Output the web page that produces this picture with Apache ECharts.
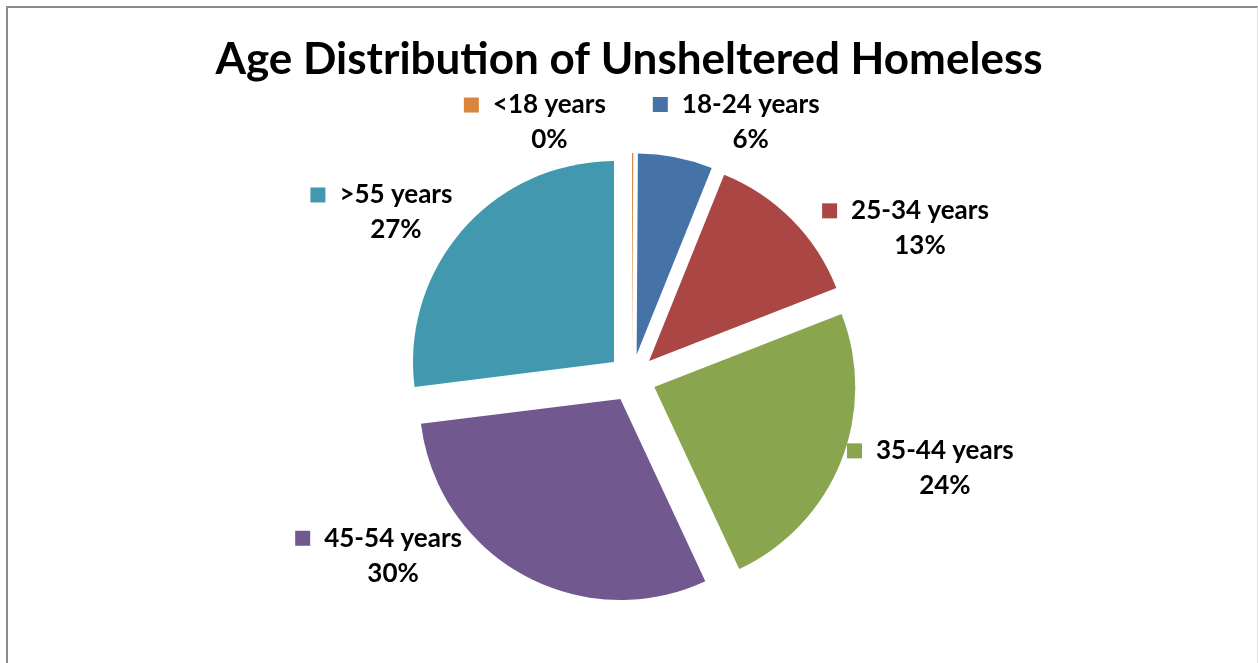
<!DOCTYPE html>
<html lang="en">
<head>
    <meta charset="UTF-8">
    <title>Age Distribution of Unsheltered Homeless</title>
    <script src="https://cdn.jsdelivr.net/npm/echarts@6/dist/echarts.min.js"></script>
    <style>
        html, body { margin: 0; padding: 0; background: #fff; }
        #frame {
            position: absolute; left: 6px; top: 6px; width: 1249px; height: 700px;
            border-left: 2px solid #8c8c8c; border-top: 2px solid #8c8c8c;
            border-right: 1px solid #e4e4e4;
        }
        #main { position: absolute; left: 0; top: 0; width: 1258px; height: 663px; }
    </style>
</head>
<body>
    <div id="frame"></div>
    <div id="main"></div>
    <script>
        // chart data
        var categories = ['<18 years', '18-24 years', '25-34 years', '35-44 years', '45-54 years', '>55 years'];
        var shares = [0.1, 6, 13, 24, 30, 27];
        var colors = ['#DB843D', '#4572A7', '#AA4643', '#89A54E', '#71588F', '#4198AF'];
        var titleText = 'Age Distribution of Unsheltered Homeless';

        // layout
        var cx = 632, cy = 378, radius = 201, explode = 24;
        var labelGap = 222;                       // nearest label corner to pie centre
        var labelTurn = [-21, 11, 16, -5, 26, -8]; // best-fit turn of each label (deg)
        var fontFamily = 'Lato';
        var labelSize = 26, lineH = 35, markW = 15, markGap = 14;

        var total = shares.reduce(function (a, b) { return a + b; }, 0);

        // place each label box just outside the exploded pie
        var ctx = document.createElement('canvas').getContext('2d');
        ctx.font = 'bold ' + labelSize + 'px ' + fontFamily;
        function nearest(px, py, w, h) {
            var nx = Math.max(px - w / 2, Math.min(0, px + w / 2));
            var ny = Math.max(py - h / 2, Math.min(0, py + h / 2));
            return Math.sqrt(nx * nx + ny * ny);
        }
        var boxes = [];
        var acc = 0;
        shares.forEach(function (v, i) {
            var mid = (acc + v / 2) / total * 360 + labelTurn[i];
            acc += v;
            var rad = mid * Math.PI / 180;
            var s = Math.sin(rad), c = -Math.cos(rad);
            var w = markW + markGap + ctx.measureText(categories[i]).width;
            var h = lineH * 2;
            var lo = 0, hi = 600;
            for (var k = 0; k < 40; k++) {
                var t = (lo + hi) / 2;
                if (nearest(s * t, c * t, w, h) < labelGap) lo = t; else hi = t;
            }
            boxes.push({ x: cx + s * lo, y: cy + c * lo });
        });

        var txt = { fontSize: labelSize, fontWeight: 'bold', fontFamily: fontFamily, color: '#000', lineHeight: lineH };
        var rich = {
            n: txt,
            p: txt,
            g: { width: markGap, lineHeight: lineH },
            g2: { width: markW + markGap, lineHeight: lineH }
        };
        colors.forEach(function (col, i) {
            rich['m' + i] = { width: markW, height: markW, backgroundColor: col };
        });

        var chart = echarts.init(document.getElementById('main'));
        chart.setOption({
            animation: false,
            color: colors,
            title: {
                text: titleText,
                left: 'center',
                top: 33,
                textStyle: { fontSize: 44, fontWeight: 'bold', fontFamily: fontFamily, color: '#000' }
            },
            series: [{
                // exploded slices
                type: 'pie',
                center: [cx, cy],
                radius: radius,
                startAngle: 90,
                selectedMode: 'multiple',
                selectedOffset: explode,
                data: categories.map(function (name, i) {
                    return { name: name, value: shares[i], selected: true };
                }),
                itemStyle: { borderWidth: 0 },
                emphasis: { disabled: true },
                label: { show: false },
                labelLine: { show: false },
                silent: true
            }, {
                // same pie, invisible, only carries the data labels
                type: 'pie',
                center: [cx, cy],
                radius: radius,
                startAngle: 90,
                percentPrecision: 0,
                data: categories.map(function (name, i) {
                    return { name: name, value: shares[i] };
                }),
                itemStyle: { color: 'rgba(0,0,0,0)', borderWidth: 0 },
                emphasis: { disabled: true },
                silent: true,
                label: {
                    show: true,
                    position: 'outside',
                    formatter: function (p) {
                        return '{m' + p.dataIndex + '| }{g| }{n|' + p.name + '}\n{g2| }{p|' + p.percent + '%}';
                    },
                    rich: rich
                },
                labelLine: { show: false },
                labelLayout: function (params) {
                    var b = boxes[params.dataIndex];
                    return { x: b.x, y: b.y, align: 'center', verticalAlign: 'middle' };
                }
            }]
        });
    </script>
</body>
</html>
